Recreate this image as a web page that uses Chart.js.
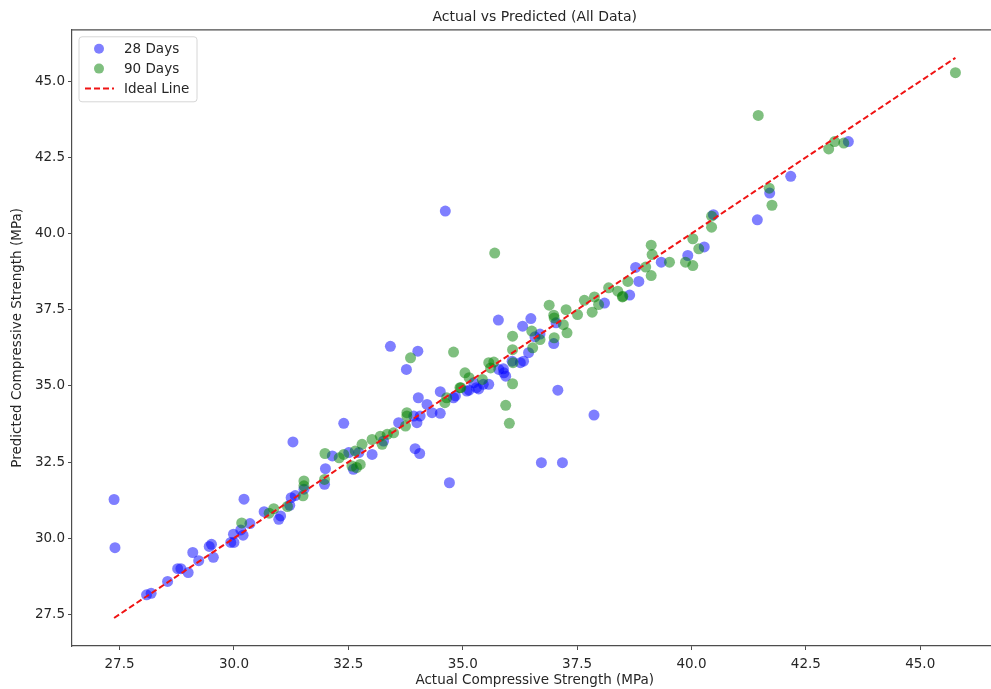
<!DOCTYPE html>
<html>
<head>
<meta charset="utf-8">
<title>Actual vs Predicted (All Data)</title>
<script src="https://cdn.jsdelivr.net/npm/chart.js@4"></script>
<style>
  html, body { margin: 0; padding: 0; background: #fff; overflow: hidden; }
  #myChart { display: block; }
</style>
</head>
<body>
<canvas id="myChart" width="1003" height="689"></canvas>
<script>
// 28 days: actual vs predicted
const actual28 = [27.38, 27.40, 28.09, 28.19, 28.55, 28.77, 28.84, 29.00, 29.10, 29.23, 29.46, 29.51, 29.55, 29.93, 30.00,
  29.99, 30.15, 30.20, 30.35, 30.22, 30.66, 30.98, 31.02, 31.22, 31.25, 31.34, 31.53, 31.29, 31.98, 32.00,
  32.15, 32.40, 32.51, 32.61, 32.73, 33.02, 33.27, 33.42, 33.60, 33.77, 33.93, 34.00, 34.02, 34.03, 34.07,
  34.06, 33.96, 34.22, 34.33, 34.51, 34.51, 34.62, 34.71, 34.80, 34.84, 35.09, 35.14, 35.24, 35.30, 35.35,
  35.45, 35.57, 35.78, 35.79, 35.89, 35.90, 35.94, 36.08, 36.26, 36.33, 36.31, 36.44, 36.49, 36.58, 36.69,
  36.72, 36.99, 37.04, 37.08, 37.18, 37.87, 38.10, 38.65, 38.78, 38.85, 39.34, 39.92, 40.28, 40.48, 41.44,
  41.71, 42.17, 43.43];
const pred28 = [31.27, 29.69, 28.14, 28.19, 28.58, 29.00, 29.00, 28.87, 29.53, 29.26, 29.73, 29.80, 29.37, 29.86, 29.86,
  30.13, 30.27, 30.10, 30.48, 31.28, 30.87, 30.62, 30.73, 31.08, 31.33, 31.40, 31.61, 33.16, 31.77, 32.28,
  32.70, 33.77, 32.81, 32.26, 32.81, 32.75, 33.19, 36.30, 33.79, 35.54, 34.01, 33.79, 36.14, 34.61, 34.01,
  32.78, 32.94, 34.39, 34.12, 34.10, 34.81, 40.74, 31.82, 34.61, 34.67, 34.83, 34.86, 35.10, 34.94, 34.90,
  35.05, 35.05, 37.16, 35.54, 35.56, 35.43, 35.32, 35.81, 35.76, 35.81, 36.96, 36.09, 37.21, 36.61, 36.70,
  32.48, 36.39, 37.07, 34.86, 32.48, 34.04, 37.72, 37.98, 38.89, 38.43, 39.06, 39.28, 39.56, 40.62, 40.45,
  41.33, 41.88, 43.02];

// 90 days: actual vs predicted
const actual90 = [30.17, 30.77, 30.87, 31.17, 31.51, 31.53, 31.53, 31.98, 31.99, 32.30, 32.40, 32.58, 32.65, 32.68, 32.76,
  32.80, 33.02, 33.20, 33.24, 33.35, 33.49, 33.75, 33.78, 33.78, 33.86, 34.61, 34.65, 34.80, 34.94, 34.96,
  35.05, 35.14, 35.43, 35.57, 35.61, 35.68, 35.70, 35.94, 36.02, 36.09, 36.09, 36.09, 36.10, 36.51, 36.53,
  36.69, 36.89, 36.99, 37.00, 37.00, 37.20, 37.26, 37.28, 37.51, 37.66, 37.83, 37.88, 37.97, 38.19, 38.39,
  38.49, 38.50, 38.61, 39.00, 39.12, 39.14, 39.12, 39.52, 39.87, 40.03, 40.03, 40.16, 40.44, 40.44, 41.46,
  41.70, 41.76, 43.00, 43.13, 43.33, 45.77];
const pred90 = [30.50, 30.82, 30.97, 31.04, 31.39, 31.72, 31.88, 31.93, 32.78, 32.64, 32.75, 32.37, 32.86, 32.32, 32.42,
  33.08, 33.24, 33.35, 33.08, 33.41, 33.46, 33.68, 34.01, 34.12, 35.92, 34.45, 34.61, 36.11, 34.94, 34.94,
  35.43, 35.27, 35.21, 35.76, 35.59, 35.78, 39.36, 34.36, 33.77, 36.63, 36.19, 35.07, 35.76, 36.80, 36.25,
  36.52, 37.65, 37.32, 37.23, 36.58, 37.01, 37.50, 36.74, 37.34, 37.81, 37.42, 37.92, 37.67, 38.22, 38.11,
  37.92, 37.94, 38.43, 38.90, 39.62, 39.31, 38.62, 39.06, 39.06, 39.83, 38.95, 39.50, 40.57, 40.21, 43.88,
  41.49, 40.93, 42.78, 43.02, 42.97, 45.28];

// ideal line runs from min to max of actual values
const idealLine = [27.38, 45.77];

const xTickValues = [27.5, 30.0, 32.5, 35.0, 37.5, 40.0, 42.5, 45.0];
const yTickValues = [27.5, 30.0, 32.5, 35.0, 37.5, 40.0, 42.5, 45.0];

const toPoints = (xs, ys) => xs.map((x, i) => ({ x: x, y: ys[i] }));

// matplotlib style 5% margins
const span = idealLine[1] - idealLine[0];
const axMin = idealLine[0] - span * 0.05;
const axMax = idealLine[1] + span * 0.05;

const textColor = '#262626';
const spineColor = '#4d4d4d';
const fontFamily = "'DejaVu Sans', sans-serif";
const labelSize = 13.5;

const chartData = {
  datasets: [{
    type: 'scatter',
    label: '28 Days',
    data: toPoints(actual28, pred28),
    backgroundColor: 'rgba(0, 0, 255, 0.5)',
    borderWidth: 0,
    pointRadius: 5.5,
    order: 3
  }, {
    type: 'scatter',
    label: '90 Days',
    data: toPoints(actual90, pred90),
    backgroundColor: 'rgba(0, 128, 0, 0.5)',
    borderWidth: 0,
    pointRadius: 5.5,
    order: 2
  }, {
    type: 'line',
    label: 'Ideal Line',
    data: toPoints(idealLine, idealLine),
    borderColor: 'rgb(240, 20, 20)',
    borderWidth: 2,
    borderDash: [6, 3],
    pointRadius: 0,
    fill: false,
    order: 1
  }]
};

// legend drawn inside the axes, top-left, like matplotlib
const insideLegend = {
  id: 'insideLegend',
  afterDatasetsDraw: (chart) => {
    const ctx = chart.ctx;
    const area = chart.chartArea;
    const bx = area.left + 7, by = area.top + 7, bw = 118, bh = 65;
    ctx.save();
    ctx.beginPath();
    ctx.roundRect(bx, by, bw, bh, 3);
    ctx.fillStyle = 'rgba(255, 255, 255, 0.8)';
    ctx.fill();
    ctx.strokeStyle = '#d6d6d6';
    ctx.lineWidth = 1;
    ctx.stroke();

    ctx.font = labelSize + 'px ' + fontFamily;
    ctx.textBaseline = 'middle';
    chart.data.datasets.forEach((ds, i) => {
      const cy = by + 12 + i * 19.8;
      if (ds.type === 'line') {
        ctx.beginPath();
        ctx.setLineDash(ds.borderDash);
        ctx.strokeStyle = ds.borderColor;
        ctx.lineWidth = ds.borderWidth;
        ctx.moveTo(bx + 6, cy);
        ctx.lineTo(bx + 35, cy);
        ctx.stroke();
        ctx.setLineDash([]);
      } else {
        ctx.beginPath();
        ctx.arc(bx + 20, cy, 5, 0, Math.PI * 2);
        ctx.fillStyle = ds.backgroundColor;
        ctx.fill();
      }
      ctx.fillStyle = textColor;
      ctx.fillText(ds.label, bx + 45, cy + 1);
    });
    ctx.restore();
  }
};

// top and right spines
const spines = {
  id: 'spines',
  afterDraw: (chart) => {
    const ctx = chart.ctx;
    const a = chart.chartArea;
    ctx.save();
    ctx.strokeStyle = spineColor;
    ctx.lineWidth = 1.2;
    ctx.beginPath();
    ctx.moveTo(a.left, a.top);
    ctx.lineTo(a.right, a.top);
    ctx.lineTo(a.right, a.bottom);
    ctx.stroke();
    ctx.restore();
  }
};

const tickFmt = (v) => Number(v).toFixed(1);

const config = {
  data: chartData,
  plugins: [insideLegend, spines],
  options: {
    responsive: false,
    animation: false,
    events: [],
    layout: { padding: { left: 0, right: 1, top: 0, bottom: 0 } },
    plugins: {
      legend: { display: false },
      tooltip: { enabled: false },
      title: {
        display: true,
        fullSize: false,
        text: 'Actual vs Predicted (All Data)',
        color: textColor,
        font: { family: fontFamily, size: 14, weight: 'normal' },
        padding: { top: 9, bottom: 4 }
      }
    },
    scales: {
      x: {
        type: 'linear',
        min: axMin,
        max: axMax,
        afterBuildTicks: (s) => { s.ticks = xTickValues.map(v => ({ value: v })); },
        afterFit: (s) => { s.height = 43; },
        grid: { display: true, drawOnChartArea: false, drawTicks: true, tickLength: 4, color: spineColor },
        border: { display: true, color: spineColor, width: 1.2 },
        ticks: { color: textColor, font: { family: fontFamily, size: labelSize }, padding: 6, maxRotation: 0, callback: tickFmt },
        title: {
          display: true,
          text: 'Actual Compressive Strength (MPa)',
          color: textColor,
          font: { family: fontFamily, size: labelSize },
          padding: { top: 0, bottom: 0 }
        }
      },
      y: {
        type: 'linear',
        min: axMin,
        max: axMax,
        afterBuildTicks: (s) => { s.ticks = yTickValues.map(v => ({ value: v })); },
        afterFit: (s) => { s.width = 72; },
        grid: { display: true, drawOnChartArea: false, drawTicks: true, tickLength: 4, color: spineColor },
        border: { display: true, color: spineColor, width: 1.2 },
        ticks: { color: textColor, font: { family: fontFamily, size: labelSize }, padding: 3, callback: tickFmt },
        title: {
          display: true,
          text: 'Predicted Compressive Strength (MPa)',
          color: textColor,
          font: { family: fontFamily, size: labelSize },
          padding: { top: 9, bottom: 4 }
        }
      }
    }
  }
};

var myChart = new Chart(document.getElementById('myChart'), config);
</script>
</body>
</html>
